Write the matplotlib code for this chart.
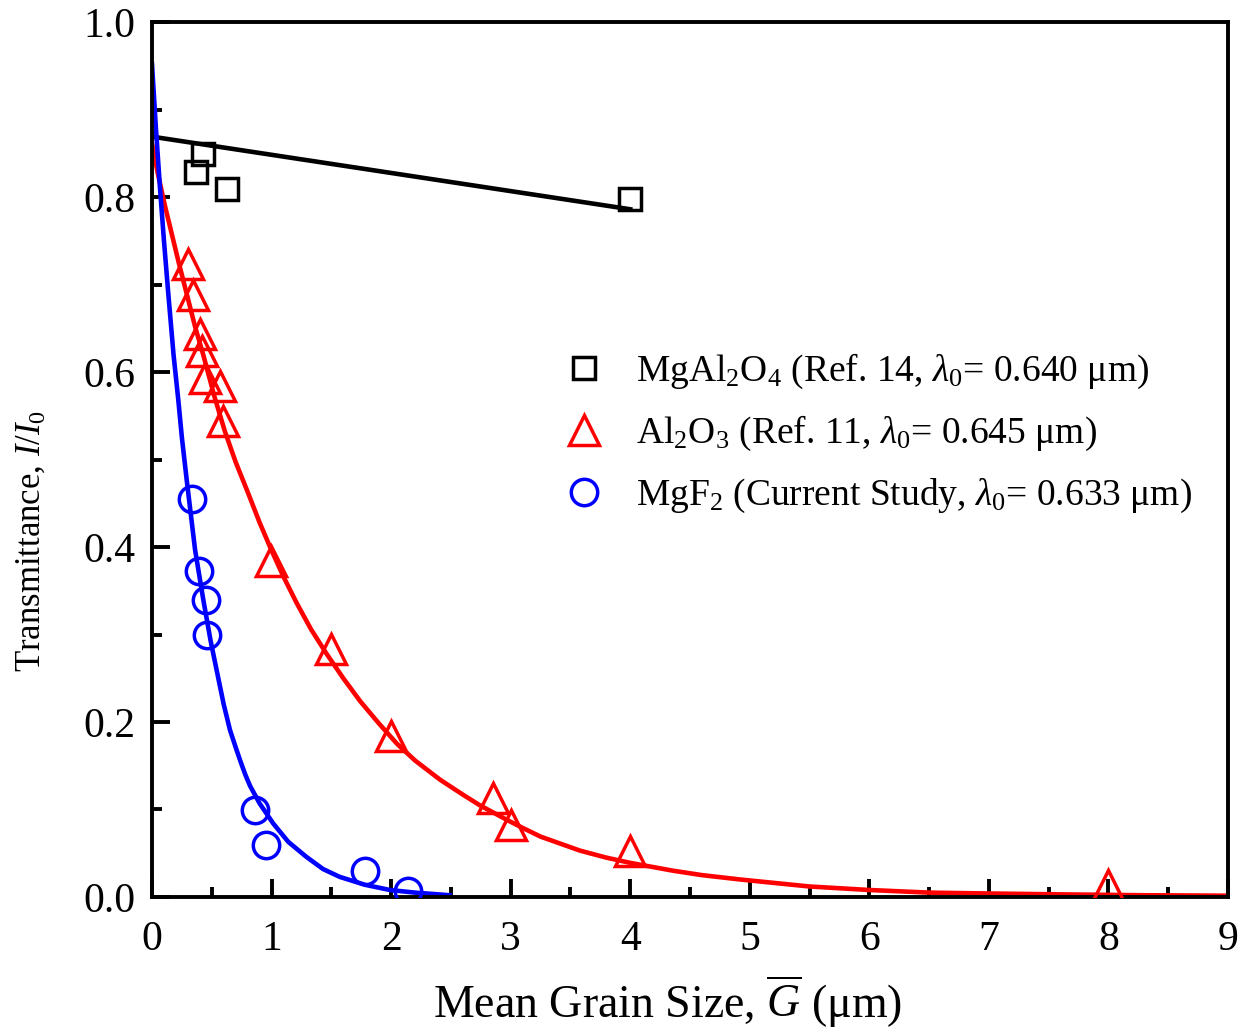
import numpy as np
import matplotlib
matplotlib.use("Agg")
import matplotlib.pyplot as plt
from matplotlib.ticker import MultipleLocator, FormatStrFormatter

# DATA

# MgAl2O4, Ref. 14
mgal_x = [0.37, 0.43, 0.625, 4.0]
mgal_y = [0.829, 0.849, 0.809, 0.798]
# straight fit line, end points
mgal_fit_x = [0.0, 4.0]
mgal_fit_y = [0.869, 0.786]

# Al2O3, Ref. 11
al_x = [0.298, 0.345, 0.40, 0.42, 0.443, 0.569, 0.597, 0.995, 1.497, 1.996, 2.855, 3.0, 4.0, 8.0]
al_y = [0.724, 0.688, 0.644, 0.624, 0.593, 0.584, 0.544, 0.384, 0.284, 0.184, 0.113, 0.082, 0.053, 0.0137]
# fitted curve, points
al_fit_x = [0.0, 0.05, 0.11, 0.22, 0.36, 0.43, 0.52, 0.61, 0.70, 0.80, 0.90, 1.0, 1.10, 1.21, 1.33,
            1.46, 1.60, 1.74, 1.90, 2.05, 2.20, 2.41, 2.60, 2.74, 2.97, 3.10, 3.25, 3.58, 3.80,
            4.0, 4.36, 4.60, 4.92, 5.5, 6.0, 6.5, 7.0, 7.6, 8.3, 9.0]
al_fit_y = [0.861, 0.826, 0.789, 0.727, 0.652, 0.619, 0.573, 0.532, 0.497, 0.463, 0.428, 0.396, 0.366,
            0.336, 0.306, 0.278, 0.250, 0.224, 0.198, 0.175, 0.156, 0.134, 0.117, 0.105, 0.088, 0.079,
            0.069, 0.053, 0.045, 0.039, 0.030, 0.025, 0.020, 0.012, 0.008, 0.005, 0.004, 0.003, 0.002, 0.0015]

# MgF2, current study
mgf_x = [0.337, 0.393, 0.452, 0.457, 0.861, 0.951, 1.784, 2.144]
mgf_y = [0.4545, 0.373, 0.339, 0.299, 0.099, 0.059, 0.030, 0.007]
# fitted curve, points
mgf_fit_x = [0.0, 0.033, 0.067, 0.10, 0.136, 0.18, 0.22, 0.25, 0.29, 0.36, 0.43, 0.49, 0.541, 0.60,
             0.652, 0.70, 0.74, 0.78, 0.82, 0.90, 1.014, 1.14, 1.29, 1.43, 1.57, 1.78, 1.99, 2.20, 2.49]
mgf_fit_y = [0.952, 0.878, 0.81, 0.75, 0.69, 0.62, 0.568, 0.525, 0.477, 0.397, 0.339, 0.293, 0.259,
             0.22, 0.191, 0.171, 0.155, 0.140, 0.127, 0.107, 0.084, 0.063, 0.046, 0.032, 0.023, 0.014,
             0.008, 0.005, 0.002]

labels = [r'MgAl$_2$O$_4$ (Ref. 14, $\lambda_0$= 0.640 μm)',
          r'Al$_2$O$_3$ (Ref. 11, $\lambda_0$= 0.645 μm)',
          r'MgF$_2$ (Current Study, $\lambda_0$= 0.633 μm)']

# STYLE
plt.rcParams['font.family'] = ['Liberation Serif', 'DejaVu Serif']
plt.rcParams['mathtext.fontset'] = 'custom'
plt.rcParams['mathtext.rm'] = 'Liberation Serif'
plt.rcParams['mathtext.it'] = 'Liberation Serif:italic'

fig = plt.figure(figsize=(12.5, 10.34), dpi=100)
ax = fig.add_axes([0.1216, 0.1325, 0.8608, 0.8462])

lw = 3.3
mew = 2.5

# fit lines
ax.plot(mgal_fit_x, mgal_fit_y, color='black', lw=lw, zorder=2)
ax.plot(al_fit_x, al_fit_y, color='red', lw=lw, zorder=2)
ax.plot(mgf_fit_x, mgf_fit_y, color='blue', lw=lw, zorder=2)

# data points
h1, = ax.plot(mgal_x, mgal_y, ls='none', marker='s', ms=16.5, mfc='none', mec='black', mew=mew, zorder=3)
h2, = ax.plot(al_x, al_y, ls='none', marker='^', ms=21, mfc='none', mec='red', mew=mew, zorder=3)
h3, = ax.plot(mgf_x, mgf_y, ls='none', marker='o', ms=19, mfc='none', mec='blue', mew=mew, zorder=3)

# axes
ax.set_xlim(0, 9)
ax.set_ylim(0, 1.0)
ax.xaxis.set_major_locator(MultipleLocator(1))
ax.xaxis.set_minor_locator(MultipleLocator(0.5))
ax.yaxis.set_major_locator(MultipleLocator(0.2))
ax.yaxis.set_minor_locator(MultipleLocator(0.1))
ax.yaxis.set_major_formatter(FormatStrFormatter('%.1f'))
ax.tick_params(which='both', direction='in', top=False, right=False, width=2.8, colors='black')
ax.tick_params(which='major', length=13, labelsize=30)
ax.tick_params(which='minor', length=7)
ax.tick_params(axis='x', which='major', pad=17)
ax.tick_params(axis='y', which='major', pad=12)
for s in ax.spines.values():
    s.set_linewidth(2.8)

ax.set_xlabel(r'Mean Grain Size, $\overline{G}$ (μm)', fontsize=33)
ax.xaxis.set_label_coords(0.479, -0.088)
ax.set_ylabel(r'Transmittance, $I/I_0$', fontsize=25)
ax.yaxis.set_label_coords(-0.097, 0.407)

leg = ax.legend([h1, h2, h3], labels, loc='center left', bbox_to_anchor=(0.356, 0.530),
                frameon=False, fontsize=27, handlelength=1.0, handletextpad=0.9,
                labelspacing=0.62, borderpad=0.3)

fig.savefig('out.png', dpi=100)
